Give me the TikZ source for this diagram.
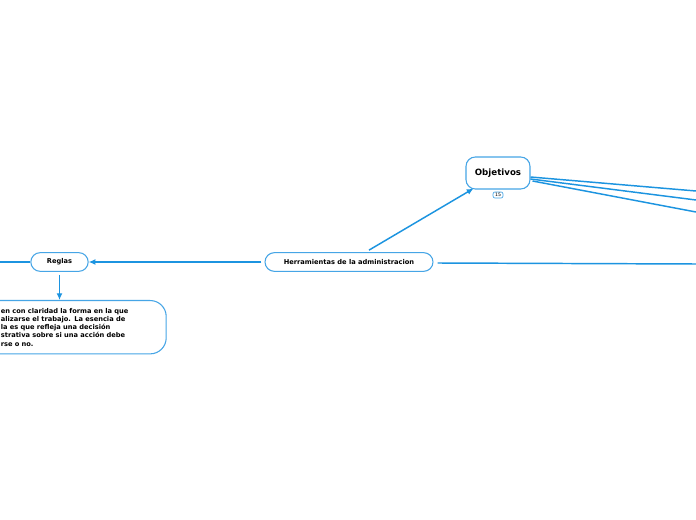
\documentclass[tikz,border=0pt]{standalone}
\usepackage{fontspec}
\setmainfont{DejaVu Sans}
\usetikzlibrary{arrows.meta,positioning,calc}
\definecolor{linkblue}{RGB}{28,148,224}
\definecolor{edgeblue}{RGB}{70,165,230}
\begin{document}
\begin{tikzpicture}[x=0.75pt, y=-0.75pt,
        topic/.style={draw=edgeblue, line width=0.8pt, rounded corners=7pt, align=center, font=\bfseries\fontsize{5}{6}\selectfont, inner sep=0pt},
        badge/.style={draw=edgeblue, line width=0.5pt, rounded corners=1.5pt, font=\fontsize{3.5}{4}\selectfont, inner xsep=1.5pt, inner ysep=1pt},
        link/.style={draw=linkblue, line width=1.1pt},
        arrow/.style={link, -{Latex[length=5pt,width=4.5pt]}}
    ]
        \useasboundingbox[fill=white] (0,0) rectangle (696,520);
        \clip (0,0) rectangle (696,520);

        \node[topic, minimum width=126pt, minimum height=14pt] (herr) at (349,262) {Herramientas de la administracion};
        \node[topic, minimum width=43pt, minimum height=14pt] (reglas) at (59.5,262) {Reglas};
        \node[topic, minimum width=48pt, minimum height=24pt, font=\bfseries\fontsize{6.5}{8}\selectfont] (obj) at (498,173) {Objetivos};
        \node[badge] (cnt) at (498,195) {15};
        \node[topic, rounded corners=12pt, anchor=north west, align=left, text width=105pt, inner xsep=19pt, minimum height=40pt,
              font=\bfseries\fontsize{5}{6.2}\selectfont] (desc) at (-25,300)
            {en con claridad la forma en la que\\alizarse el trabajo. La esencia de\\la es que refleja una decisión\\strativa sobre si una acción debe\\rse o no.};

        \coordinate (westend) at (0,262);
        \coordinate (eastend) at (696,264);
        \coordinate (objA) at (696,191);
        \coordinate (objB) at (696,200);
        \coordinate (objC) at (696,212);

        \draw[arrow] ($(herr.north)+(20,-2)$) -- ($(obj.south west)+(8,-1)$);
        \draw[arrow] ($(herr.west)+(-3,0)$) -- (reglas.east);
        \draw[link] (reglas.west) -- (westend);
        \draw[arrow] ($(reglas.south)+(0,3)$) -- (desc.north -| reglas.south);
        \draw[link] ($(herr.east)+(4,1)$) -- (eastend);
        \draw[link] ($(obj.east)+(0,4)$) -- (objA);
        \draw[link] ($(obj.east)+(0,6)$) -- (objB);
        \draw[link] ($(obj.east)+(2,8)$) -- (objC);
    \end{tikzpicture}
\end{document}
